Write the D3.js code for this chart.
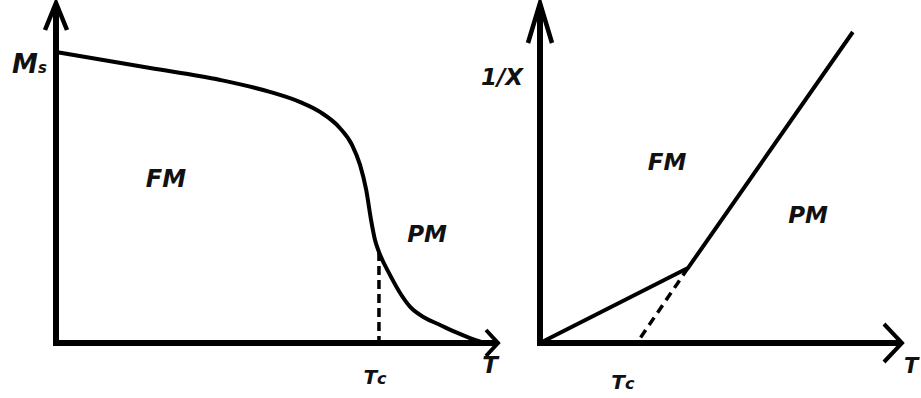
<!DOCTYPE html>
<html>
<head>
<meta charset="utf-8">
<script src="https://cdn.jsdelivr.net/npm/d3@7"></script>
<style>
  html, body { margin: 0; padding: 0; background: #fff; }
  svg { display: block; }
  text { font-family: "DejaVu Sans", Verdana, sans-serif; font-weight: bold; font-style: italic; fill: #111; }
</style>
</head>
<body>
<svg id="chart" width="921" height="398"></svg>
<script>
// ---- Data (arbitrary units) ----
// Left panel: spontaneous magnetisation M(T), % of Ms
const magT = [0, 21.4, 37.3, 48.6, 55.5, 60, 64.5, 67.3, 69.1, 70.5, 71.6, 72.5, 73.4, 75.9, 78.2, 80.5, 83.9, 87.3, 90.7, 94.1, 96.8];
const magM = [100, 94.5, 90.4, 86.3, 82.8, 79.4, 73.9, 68.0, 61.2, 52.6, 42.3, 35.4, 31.3, 23.4, 17.2, 12.4, 8.6, 6.2, 3.8, 1.7, 0.3];
const magTc = 73.4;
const magTcM = 31.3;

// Right panel: inverse susceptibility 1/X(T)
const invT = [0, 41.1, 86.9];
const invChi = [0, 24.1, 100];
const invTc = 26.9;

// Labels
const leftYLabel = ["M", "s"];
const rightYLabel = "1/X";
const xLabel = "T";
const tcLabel = ["T", "c"];
const regionLabels = ["FM", "PM"];

// ---- Scales ----
const xL = d3.scaleLinear().domain([0, 100]).range([56, 496]);
const yL = d3.scaleLinear().domain([0, 100]).range([343, 52]);
const xR = d3.scaleLinear().domain([0, 100]).range([540, 900]);
const yR = d3.scaleLinear().domain([0, 100]).range([343, 32]);

const svg = d3.select("#chart");
const ink = "#000";

function axes(x0, y0, yTop, xEnd, yWing, yWingDx, xWing, xWingDy) {
  const g = svg.append("g");
  g.append("line").attr("x1", x0).attr("y1", y0 + 3).attr("x2", x0).attr("y2", yTop + 2)
    .attr("stroke", ink).attr("stroke-width", 6);
  g.append("line").attr("x1", x0 - 3).attr("y1", y0).attr("x2", xEnd - 2).attr("y2", y0)
    .attr("stroke", ink).attr("stroke-width", 6);
  // y arrow head (open chevron)
  g.append("path")
    .attr("d", `M${x0 - yWingDx},${yTop + yWing} L${x0},${yTop} L${x0 + yWingDx},${yTop + yWing}`)
    .attr("fill", "none").attr("stroke", ink).attr("stroke-width", 4.5).attr("stroke-linejoin", "miter");
  // x arrow head
  g.append("path")
    .attr("d", `M${xEnd - xWing},${y0 - xWingDy} L${xEnd},${y0} L${xEnd - xWing},${y0 + xWingDy}`)
    .attr("fill", "none").attr("stroke", ink).attr("stroke-width", 4).attr("stroke-linejoin", "miter");
}

// ---- Left panel ----
axes(xL(0), yL(0), 3, xL(100) + 2, 27, 11, 12, 13);

const magData = magT.map((t, i) => ({ t, m: magM[i] }));
svg.append("path")
  .datum(magData)
  .attr("d", d3.line().x(d => xL(d.t)).y(d => yL(d.m)).curve(d3.curveMonotoneX))
  .attr("fill", "none").attr("stroke", ink).attr("stroke-width", 4);

svg.append("line")
  .attr("x1", xL(magTc)).attr("y1", yL(magTcM)).attr("x2", xL(magTc)).attr("y2", yL(0))
  .attr("stroke", ink).attr("stroke-width", 3.5).attr("stroke-dasharray", "9,5");

// Ms label
const ms = svg.append("text").attr("x", 12).attr("y", yL(100) + 21);
ms.append("tspan").attr("font-size", 26).text(leftYLabel[0]);
ms.append("tspan").attr("font-size", 15).text(leftYLabel[1]);

// Tc label left
const tcl = svg.append("text").attr("x", xL(magTc) - 4).attr("y", 384).attr("text-anchor", "middle");
tcl.append("tspan").attr("font-size", 20).text(tcLabel[0]);
tcl.append("tspan").attr("font-size", 16).text(tcLabel[1]);

svg.append("text").attr("x", 490).attr("y", 373).attr("text-anchor", "middle").attr("font-size", 23).text(xLabel);

svg.append("text").attr("x", 166).attr("y", 187).attr("text-anchor", "middle").attr("font-size", 24).text(regionLabels[0]);
svg.append("text").attr("x", 427).attr("y", 242).attr("text-anchor", "middle").attr("font-size", 23).text(regionLabels[1]);

// ---- Right panel ----
axes(xR(0), yR(0), 3, 902, 40, 12, 18, 19);

const invData = invT.map((t, i) => ({ t, c: invChi[i] }));
svg.append("path")
  .datum(invData)
  .attr("d", d3.line().x(d => xR(d.t)).y(d => yR(d.c)))
  .attr("fill", "none").attr("stroke", ink).attr("stroke-width", 4).attr("stroke-linejoin", "miter");

svg.append("line")
  .attr("x1", xR(invT[1])).attr("y1", yR(invChi[1])).attr("x2", xR(invTc)).attr("y2", yR(0))
  .attr("stroke", ink).attr("stroke-width", 3.5).attr("stroke-dasharray", "9,6");

svg.append("text").attr("x", 502).attr("y", 85).attr("text-anchor", "middle").attr("font-size", 23).text(rightYLabel);

const tcr = svg.append("text").attr("x", xR(invTc) - 14).attr("y", 389).attr("text-anchor", "middle");
tcr.append("tspan").attr("font-size", 20).text(tcLabel[0]);
tcr.append("tspan").attr("font-size", 16).text(tcLabel[1]);

svg.append("text").attr("x", 904).attr("y", 373).attr("font-size", 21).text(xLabel);

svg.append("text").attr("x", 667).attr("y", 170).attr("text-anchor", "middle").attr("font-size", 23).text(regionLabels[0]);
svg.append("text").attr("x", 808).attr("y", 223).attr("text-anchor", "middle").attr("font-size", 23).text(regionLabels[1]);
</script>
</body>
</html>
